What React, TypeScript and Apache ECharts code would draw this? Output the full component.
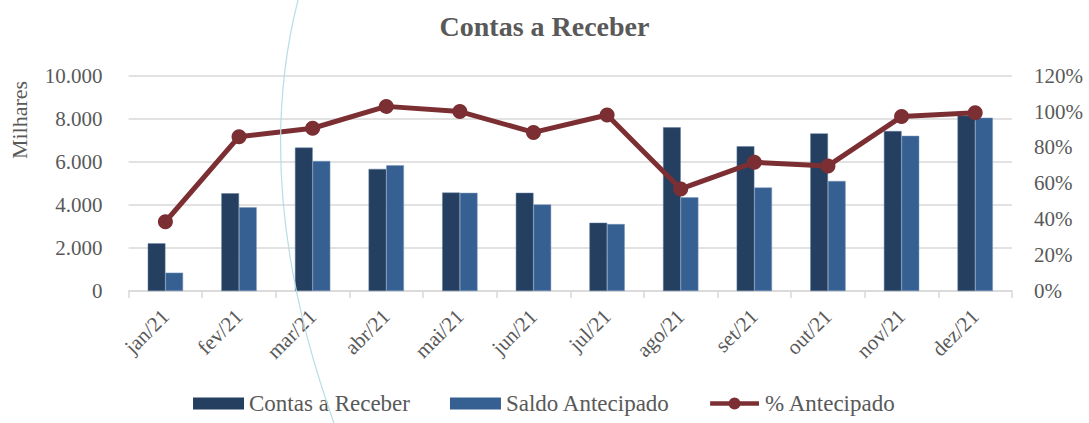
import React, { useEffect, useRef } from "react";
import * as echarts from "echarts";

const categories = ["jan/21", "fev/21", "mar/21", "abr/21", "mai/21", "jun/21", "jul/21", "ago/21", "set/21", "out/21", "nov/21", "dez/21"];
const contasReceber = [2215, 4540, 6660, 5670, 4570, 4560, 3170, 7600, 6720, 7320, 7430, 8150];
const saldoAntecipado = [850, 3890, 6040, 5840, 4560, 4020, 3110, 4350, 4810, 5110, 7210, 8050];
const pctAntecipado = [0.386, 0.86, 0.907, 1.029, 1.0, 0.884, 0.981, 0.569, 0.717, 0.697, 0.972, 0.994];

const FONT = "'Liberation Serif', 'DejaVu Serif', serif";
const GRAY = "#595959";
const LINE_ICON =
  "path://M0,4.5 H22 V9.5 H0 Z M35,4.5 H57 V9.5 H35 Z M21.5,7 A7,7 0 1 1 35.5,7 A7,7 0 1 1 21.5,7 Z";

export default function App() {
  const ref = useRef<HTMLDivElement>(null);
  useEffect(() => {
    if (!ref.current) return;
    const chart = echarts.init(ref.current, undefined, { renderer: "svg" });
    chart.setOption({
      animation: false,
      backgroundColor: "#ffffff",
      title: {
        text: "Contas a Receber",
        left: "center",
        top: 12,
        padding: 0,
        textStyle: { fontFamily: FONT, fontSize: 28, fontWeight: "bold", color: GRAY },
      },
      grid: { left: 128.6, right: 77, top: 75.7, bottom: 132, containLabel: false },
      legend: {
        bottom: 3,
        left: "center",
        itemWidth: 51,
        itemHeight: 12,
        itemGap: 40,
        textStyle: { fontFamily: FONT, fontSize: 23, color: GRAY },
        data: [
          { name: "Contas a Receber", icon: "rect", itemStyle: { color: "#243F60", borderWidth: 0 } },
          { name: "Saldo Antecipado", icon: "rect", itemStyle: { color: "#376092", borderWidth: 0 } },
          {
            name: "% Antecipado",
            icon: LINE_ICON,
            itemStyle: { color: "#7C2F33", borderWidth: 0 },
          },
        ],
      },
      xAxis: {
        type: "category",
        data: categories,
        axisLine: { lineStyle: { color: "#D9D9D9", width: 1.5 } },
        axisTick: { show: true, interval: 0, length: 7, lineStyle: { color: "#D9D9D9", width: 1.5 } },
        axisLabel: { rotate: 45, interval: 0, margin: 22, fontFamily: FONT, fontSize: 21, color: GRAY },
      },
      yAxis: [
        {
          type: "value",
          min: 0,
          max: 10000,
          interval: 2000,
          axisLine: { show: false },
          axisTick: { show: false },
          splitLine: { lineStyle: { color: "#D9D9D9", width: 1.5 } },
          axisLabel: {
            margin: 26,
            fontFamily: FONT,
            fontSize: 21,
            color: GRAY,
            formatter: (v: number) => String(v).replace(/\B(?=(\d{3})+(?!\d))/g, "."),
          },
        },
        {
          type: "value",
          min: 0,
          max: 1.2,
          interval: 0.2,
          axisLine: { show: false },
          axisTick: { show: false },
          splitLine: { show: false },
          axisLabel: {
            margin: 22,
            fontFamily: FONT,
            fontSize: 21,
            color: GRAY,
            formatter: (v: number) => Math.round(v * 100) + "%",
          },
        },
      ],
      series: [
        {
          name: "Contas a Receber",
          type: "bar",
          data: contasReceber,
          barGap: "0%",
          barCategoryGap: "52%",
          itemStyle: { color: "#243F60", borderColor: "#5F7A9C", borderWidth: 0.5 },
        },
        {
          name: "Saldo Antecipado",
          type: "bar",
          data: saldoAntecipado,
          itemStyle: { color: "#376092", borderColor: "#7A98BE", borderWidth: 0.5 },
        },
        {
          name: "% Antecipado",
          type: "line",
          yAxisIndex: 1,
          data: pctAntecipado,
          symbol: "circle",
          symbolSize: 15,
          lineStyle: { color: "#7C2F33", width: 5 },
          itemStyle: { color: "#7C2F33" },
          z: 5,
        },
      ],
      graphic: [
        {
          type: "text",
          x: 19,
          y: 120,
          rotation: Math.PI / 2,
          style: {
            text: "Milhares",
            fontFamily: FONT,
            fontSize: 22,
            fill: GRAY,
            textAlign: "center",
            textVerticalAlign: "middle",
          },
        },
        {
          type: "bezierCurve",
          shape: { x1: 298, y1: 0, cpx1: 270, cpy1: 110, cpx2: 272, cpy2: 250, x2: 334, y2: 423 },
          style: { stroke: "#B7DDE8", lineWidth: 1.2, fill: "none" },
          z: 100,
        },
      ],
    });
    return () => chart.dispose();
  }, []);
  return (
    <div
      ref={ref}
      style={{ position: "fixed", left: 0, top: 0, width: 1089, height: 423 }}
    />
  );
}
